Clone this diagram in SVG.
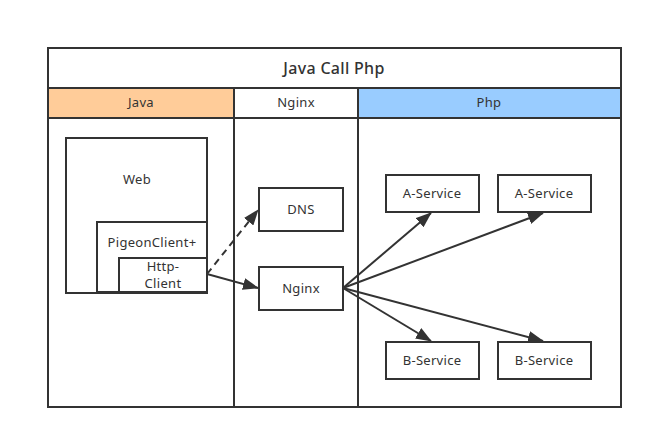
<svg xmlns="http://www.w3.org/2000/svg" width="653" height="439" viewBox="0 0 653 439">
<style>
  .box { fill: #ffffff; stroke: #333333; stroke-width: 2; }
  .lbl { font-family: "Noto Sans", "Liberation Sans", sans-serif; font-size: 13px; letter-spacing: 0.3px; fill: #333333; text-anchor: middle; }
  .title { font-family: "Noto Sans", "Liberation Sans", sans-serif; font-size: 16px; font-weight: 500; letter-spacing: 0.3px; fill: #333333; text-anchor: middle; }
  .conn { stroke: #333333; stroke-width: 2; fill: none; }
</style>
<defs>
  <marker id="arr" viewBox="0 0 16 12" refX="15" refY="6" markerWidth="16" markerHeight="12" markerUnits="userSpaceOnUse" orient="auto">
    <path d="M0,0 L16,6 L0,12 z" fill="#333333"/>
  </marker>
</defs>
<rect width="653" height="439" fill="#ffffff"/>
<g id="pool">
  <rect class="box" x="48" y="48" width="573" height="359"/>
  <line class="conn" x1="48" y1="88" x2="621" y2="88"/>
  <text class="title" x="334" y="74">Java Call Php</text>
</g>
<g id="lane-java">
  <rect x="48" y="88" width="186" height="30" fill="#ffcc99" stroke="#333333" stroke-width="2"/>
  <rect x="48" y="118" width="186" height="289" fill="none" stroke="#333333" stroke-width="2"/>
  <text class="lbl" x="141" y="107">Java</text>
</g>
<g id="lane-nginx">
  <rect x="234" y="88" width="124" height="30" fill="#ffffff" stroke="#333333" stroke-width="2"/>
  <rect x="234" y="118" width="124" height="289" fill="none" stroke="#333333" stroke-width="2"/>
  <text class="lbl" x="296" y="107">Nginx</text>
</g>
<g id="lane-php">
  <rect x="358" y="88" width="263" height="30" fill="#99ccff" stroke="#333333" stroke-width="2"/>
  <rect x="358" y="118" width="263" height="289" fill="none" stroke="#333333" stroke-width="2"/>
  <text class="lbl" x="489" y="107">Php</text>
</g>
<g id="web">
  <rect class="box" x="66" y="138" width="141" height="155"/>
  <text class="lbl" x="137" y="184">Web</text>
</g>
<g id="pigeon">
  <rect class="box" x="97" y="222" width="110" height="70"/>
  <text class="lbl" x="152" y="247">PigeonClient+</text>
</g>
<g id="httpclient">
  <rect class="box" x="119" y="258" width="88" height="34"/>
  <text class="lbl" x="163" y="271">Http-</text>
  <text class="lbl" x="163" y="288">Client</text>
</g>
<g id="dns">
  <rect class="box" x="259" y="188" width="84" height="43"/>
  <text class="lbl" x="301" y="214">DNS</text>
</g>
<g id="nginx">
  <rect class="box" x="259" y="267" width="84" height="43"/>
  <text class="lbl" x="301" y="293">Nginx</text>
</g>
<g id="a1">
  <rect class="box" x="386" y="175" width="93" height="37"/>
  <text class="lbl" x="432" y="198">A-Service</text>
</g>
<g id="a2">
  <rect class="box" x="498" y="175" width="93" height="37"/>
  <text class="lbl" x="544" y="198">A-Service</text>
</g>
<g id="b1">
  <rect class="box" x="386" y="342" width="93" height="37"/>
  <text class="lbl" x="432" y="365">B-Service</text>
</g>
<g id="b2">
  <rect class="box" x="498" y="342" width="93" height="37"/>
  <text class="lbl" x="544" y="365">B-Service</text>
</g>
<g id="connectors">
  <line class="conn" x1="207" y1="274" x2="258" y2="210" stroke-dasharray="7,5" marker-end="url(#arr)"/>
  <line class="conn" x1="207" y1="274" x2="258" y2="288" marker-end="url(#arr)"/>
  <line class="conn" x1="343" y1="288" x2="431" y2="213" marker-end="url(#arr)"/>
  <line class="conn" x1="343" y1="288" x2="543" y2="213" marker-end="url(#arr)"/>
  <line class="conn" x1="343" y1="288" x2="431" y2="341" marker-end="url(#arr)"/>
  <line class="conn" x1="343" y1="288" x2="543" y2="341" marker-end="url(#arr)"/>
</g>
</svg>
